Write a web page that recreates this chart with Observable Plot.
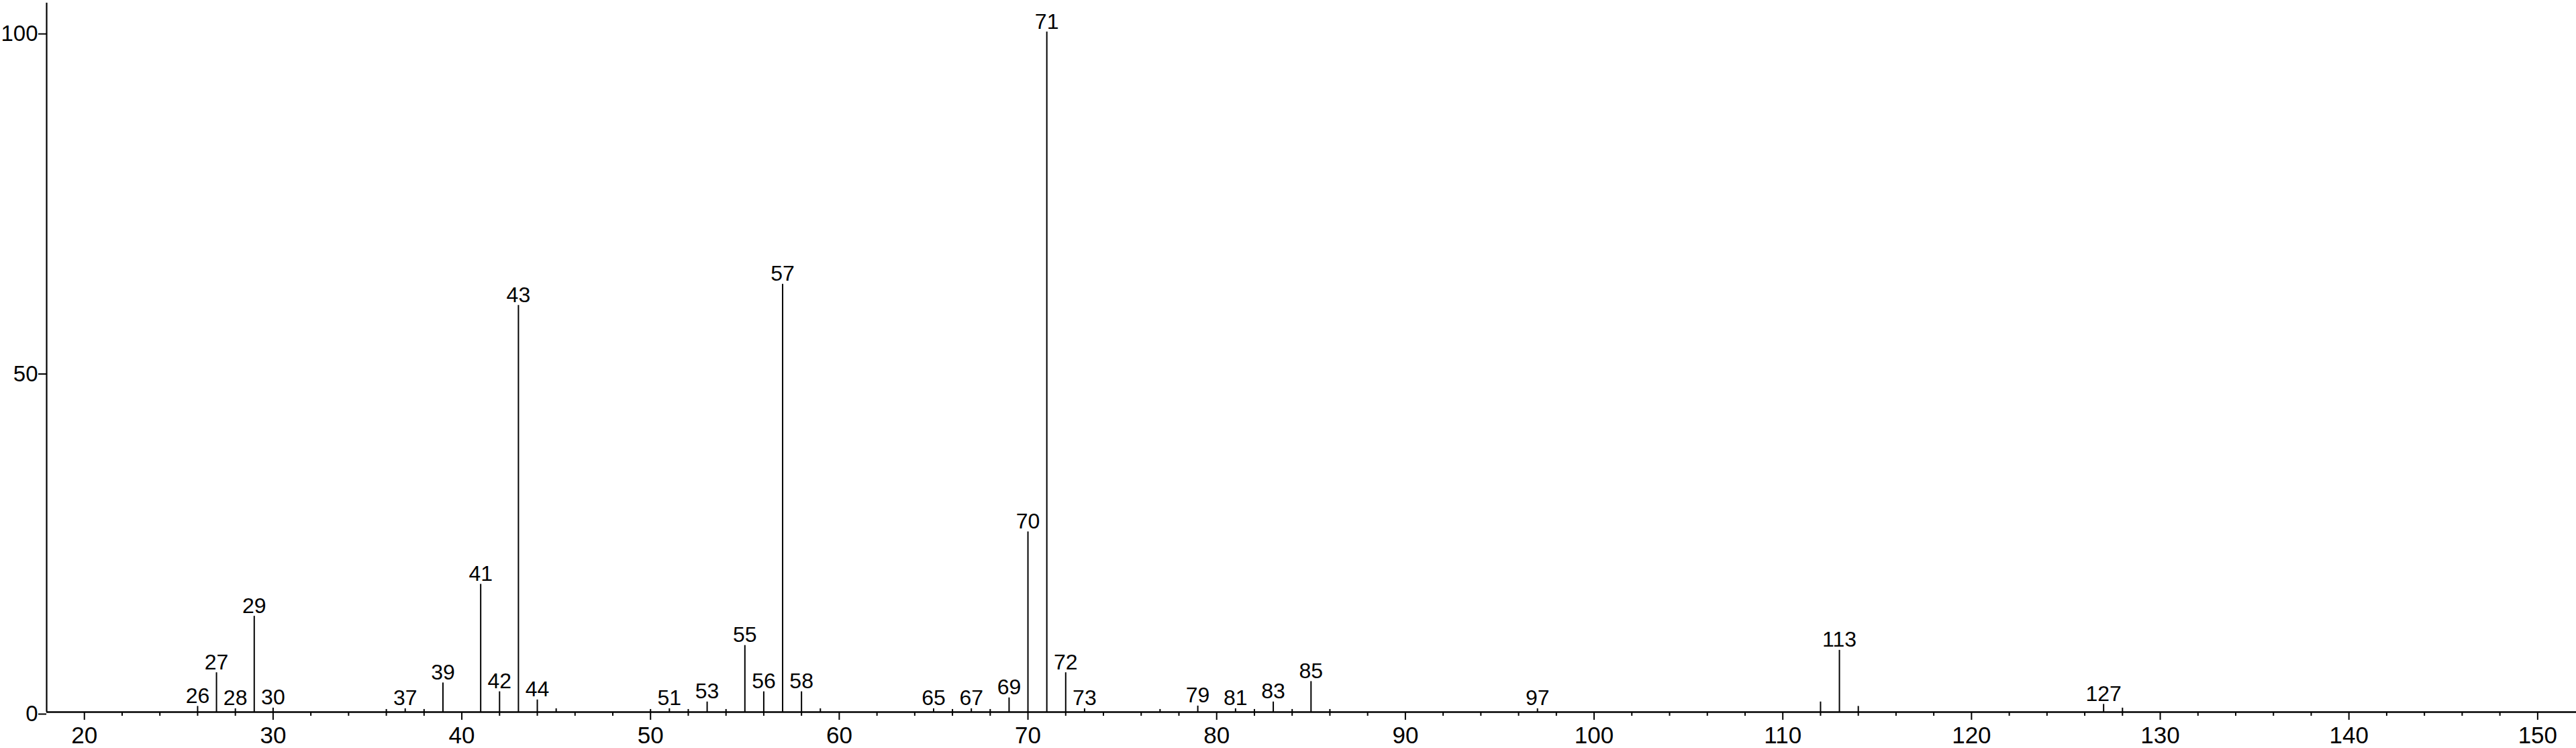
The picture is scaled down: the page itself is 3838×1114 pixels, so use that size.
<!DOCTYPE html>
<html>
<head>
<meta charset="utf-8">
<script src="https://cdn.jsdelivr.net/npm/d3@7"></script>
<script src="https://cdn.jsdelivr.net/npm/@observablehq/plot@0.6"></script>
<style>
  html, body { margin: 0; padding: 0; background: #fff; }
  svg { display: block; }
</style>
</head>
<body>
<div id="chart"></div>
<script>
// m/z values of the spectrum lines
const mz = [26, 27, 28, 29, 30, 36, 37, 38, 39, 41, 42, 43, 44, 45, 50, 51, 52, 53, 54, 55, 56, 57, 58, 59,
            65, 66, 67, 68, 69, 70, 71, 72, 73, 77, 79, 81, 82, 83, 84, 85, 86, 97, 112, 113, 114, 127, 128];
// relative intensities (%)
const intensity = [0.85, 5.8, 0.5, 14.1, 0.6, 0.4, 0.5, 0.4, 4.3, 18.8, 3.0, 59.8, 1.8, 0.5, 0.4, 0.5, 0.4, 1.5, 0.4, 9.8, 3.0, 62.9, 3.0, 0.5,
                   0.5, 0.4, 0.5, 0.4, 2.1, 26.5, 100, 5.8, 0.5, 0.4, 0.9, 0.5, 0.4, 1.5, 0.4, 4.5, 0.4, 0.5, 1.5, 9.1, 0.85, 1.15, 0.6];
// peaks that carry a label
const labeledMz = [26, 27, 28, 29, 30, 37, 39, 41, 42, 43, 44, 51, 53, 55, 56, 57, 58, 65, 67, 69, 70, 71, 72, 73,
                   79, 81, 83, 85, 97, 113, 127];
// axis ticks
const xMajorTicks = [20, 30, 40, 50, 60, 70, 80, 90, 100, 110, 120, 130, 140, 150];
const xMinorTicks = d3.range(22, 150, 2).filter(d => d % 10 !== 0);
const yTicks = [0, 50, 100];

const peaks = mz.map((m, i) => ({mz: m, intensity: intensity[i]}));
const labeled = peaks.filter(p => labeledMz.includes(p.mz));

const chart = Plot.plot({
  width: 3838,
  height: 1114,
  marginLeft: 69,
  marginRight: 0,
  marginTop: 4,
  marginBottom: 54,
  x: {domain: [18, 152.05], label: null},
  y: {domain: [0, 104.25], label: null},
  style: {fontFamily: "'Liberation Sans', Arial, Helvetica, sans-serif", background: "white", color: "black"},
  marks: [
    Plot.axisX({ticks: xMinorTicks, tickSize: 6, text: null, strokeWidth: 2}),
    Plot.axisX({ticks: xMajorTicks, tickSize: 12, tickPadding: 10, fontSize: 35, strokeWidth: 2, tickFormat: d => String(d)}),
    Plot.axisY({ticks: yTicks, tickSize: 12, tickPadding: 1, fontSize: 33, strokeWidth: 2, dy: 3, tickFormat: d => String(d)}),
    Plot.ruleX([18], {strokeWidth: 2.2}),
    Plot.ruleY([0], {strokeWidth: 2.5}),
    Plot.ruleX(peaks, {x: "mz", y1: 0, y2: "intensity", strokeWidth: 2}),
    Plot.text(labeled, {x: "mz", y: "intensity", text: d => String(d.mz), dy: -5, lineAnchor: "bottom", fontSize: 32, fill: "black"})
  ]
});
document.getElementById("chart").appendChild(chart);
</script>
</body>
</html>
